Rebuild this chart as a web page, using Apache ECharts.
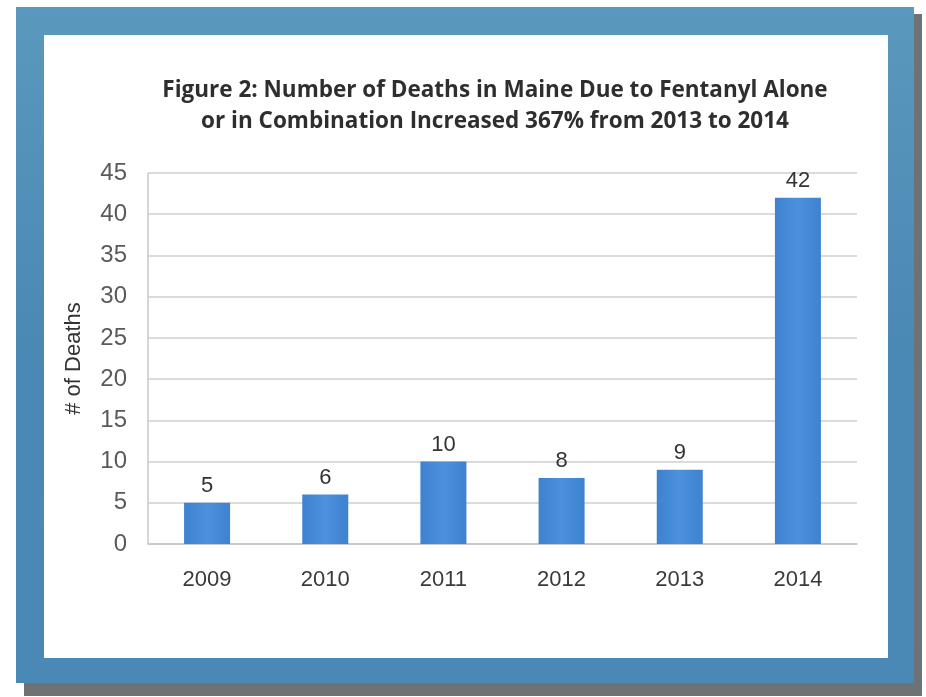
<!DOCTYPE html>
<html>
<head>
<meta charset="utf-8">
<script src="https://cdn.jsdelivr.net/npm/echarts@6/dist/echarts.min.js"></script>
<style>
  html, body { margin: 0; padding: 0; background: #ffffff; }
  #chart { width: 926px; height: 697px; }
</style>
</head>
<body>
<div id="chart"></div>
<script>
// Fentanyl-related deaths in Maine by year
const years = ['2009', '2010', '2011', '2012', '2013', '2014'];
const deaths = [5, 6, 10, 8, 9, 42];
const yTicks = { min: 0, max: 45, step: 5 };
const titleLines = [
  'Figure 2: Number of Deaths in Maine Due to Fentanyl Alone',
  'or in Combination Increased 367% from 2013 to 2014'
];
const yAxisTitle = '# of Deaths';

const chart = echarts.init(document.getElementById('chart'), null, { renderer: 'canvas' });

chart.setOption({
  backgroundColor: '#ffffff',
  animation: false,
  graphic: [
    // drop shadow behind the frame
    { type: 'rect', z: -10, shape: { x: 24, y: 14, width: 898, height: 682 },
      style: { fill: '#6f7275' } },
    // blue frame
    { type: 'rect', z: -9, shape: { x: 16, y: 7, width: 898, height: 676 },
      style: {
        fill: new echarts.graphic.LinearGradient(0, 0, 0, 1, [
          { offset: 0, color: '#5a98bd' },
          { offset: 0.5, color: '#4b89b5' },
          { offset: 1, color: '#4a88b6' }
        ])
      } },
    // white panel
    { type: 'rect', z: -8, shape: { x: 44, y: 35, width: 844, height: 623 },
      style: { fill: '#ffffff' } },
    // plot-area left border
    { type: 'line', z: 5, shape: { x1: 148, y1: 173, x2: 148, y2: 544 },
      style: { stroke: '#c9c9c9', lineWidth: 1.5 } }
  ],
  title: {
    text: titleLines.join('\n'),
    left: 490,
    textAlign: 'center',
    top: 70,
    textStyle: {
      fontFamily: 'Open Sans',
      fontWeight: 'bold',
      fontSize: 22.5,
      lineHeight: 31,
      color: '#2e2e2e'
    }
  },
  grid: { left: 148, right: 69, top: 173, bottom: 153, containLabel: false },
  xAxis: {
    type: 'category',
    data: years,
    axisLine: { show: true, lineStyle: { color: '#c4c4c4', width: 1.5 } },
    axisTick: { show: false },
    axisLabel: {
      margin: 25,
      fontFamily: 'Liberation Sans',
      fontSize: 22,
      color: '#3a3a3a'
    }
  },
  yAxis: {
    type: 'value',
    min: yTicks.min,
    max: yTicks.max,
    interval: yTicks.step,
    name: yAxisTitle,
    nameLocation: 'middle',
    nameGap: 63,
    nameRotate: 90,
    nameTextStyle: {
      fontFamily: 'Liberation Sans',
      fontSize: 22,
      color: '#333333'
    },
    axisLine: { show: false },
    axisTick: { show: false },
    axisLabel: {
      margin: 21,
      fontFamily: 'Liberation Sans',
      fontSize: 24,
      color: '#5a5a5a'
    },
    splitLine: { lineStyle: { color: '#cfcfcf', width: 1.5 } }
  },
  series: [{
    type: 'bar',
    data: deaths,
    barWidth: 46,
    itemStyle: {
      color: new echarts.graphic.LinearGradient(0, 0, 1, 0, [
        { offset: 0, color: '#3e82d0' },
        { offset: 0.5, color: '#4c91dc' },
        { offset: 1, color: '#3e82d0' }
      ])
    },
    label: {
      show: true,
      position: 'top',
      distance: 6,
      fontFamily: 'Liberation Sans',
      fontSize: 22,
      color: '#333333'
    }
  }]
});
</script>
</body>
</html>
